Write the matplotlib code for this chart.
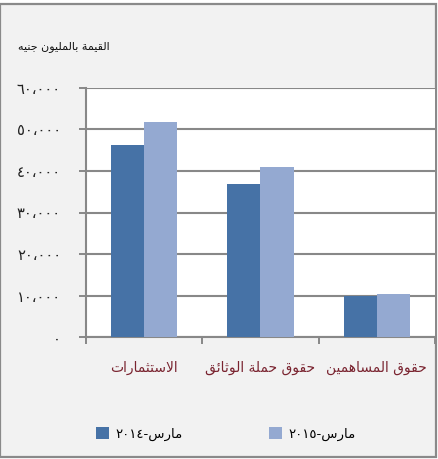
import matplotlib
matplotlib.use("Agg")
import matplotlib.pyplot as plt
from matplotlib.patches import Rectangle
import numpy as np

# ---------------- data ----------------
categories = ["الاستثمارات", "حقوق حملة الوثائق", "حقوق المساهمين"]
series_labels = ["مارس-٢٠١٤", "مارس-٢٠١٥"]
values_2014 = [46200, 36900, 9900]
values_2015 = [51800, 40900, 10300]
y_ticks = [0, 10000, 20000, 30000, 40000, 50000, 60000]
y_title = "القيمة بالمليون جنيه"

# ---------------- simple Arabic shaping ----------------
DUAL = {0x0628: 0xFE8F, 0x062A: 0xFE95, 0x062B: 0xFE99, 0x062C: 0xFE9D,
        0x062D: 0xFEA1, 0x062E: 0xFEA5, 0x0633: 0xFEB1, 0x0634: 0xFEB5,
        0x0635: 0xFEB9, 0x0636: 0xFEBD, 0x0637: 0xFEC1, 0x0638: 0xFEC5,
        0x0639: 0xFEC9, 0x063A: 0xFECD, 0x0641: 0xFED1, 0x0642: 0xFED5,
        0x0643: 0xFED9, 0x0644: 0xFEDD, 0x0645: 0xFEE1, 0x0646: 0xFEE5,
        0x0647: 0xFEE9, 0x064A: 0xFEF1, 0x0626: 0xFE89}
RIGHT = {0x0627: 0xFE8D, 0x0629: 0xFE93, 0x062F: 0xFEA9, 0x0630: 0xFEAB,
         0x0631: 0xFEAD, 0x0632: 0xFEAF, 0x0648: 0xFEED, 0x0649: 0xFEEF,
         0x0623: 0xFE83, 0x0625: 0xFE87, 0x0622: 0xFE81, 0xFEFB: 0xFEFB}
LTR_CHARS = set("0123456789٠١٢٣٤٥٦٧٨٩،,.")


def shape(s):
    s = s.replace("\u0644\u0627", "\uFEFB")
    out = []
    for i, ch in enumerate(s):
        c = ord(ch)
        if c in DUAL or c in RIGHT:
            p = i > 0 and ord(s[i - 1]) in DUAL
            n = (c in DUAL and i + 1 < len(s)
                 and (ord(s[i + 1]) in DUAL or ord(s[i + 1]) in RIGHT))
            if c in DUAL:
                off = 3 if (p and n) else 1 if p else 2 if n else 0
                out.append(chr(DUAL[c] + off))
            else:
                out.append(chr(RIGHT[c] + (1 if p else 0)))
        else:
            out.append(ch)
    shaped = "".join(out)
    # visual reordering: RTL base, digit runs kept LTR
    runs = []
    for ch in shaped:
        ltr = ch in LTR_CHARS
        if runs and runs[-1][0] == ltr:
            runs[-1][1] += ch
        else:
            runs.append([ltr, ch])
    vis = []
    for ltr, txt in reversed(runs):
        vis.append(txt if ltr else txt[::-1])
    return "".join(vis)


def ar_digits(v):
    s = f"{v:,}".replace(",", "،")
    return s.translate(str.maketrans("0123456789", "٠١٢٣٤٥٦٧٨٩"))


# ---------------- figure ----------------
W, H = 439, 459
fig = plt.figure(figsize=(W / 100, H / 100), dpi=100, facecolor="white")
fig.patches.append(Rectangle((0.5 / W, 1 - 457 / H), 435.5 / W, 453 / H,
                             transform=fig.transFigure, facecolor="#f2f2f2",
                             edgecolor="#8a8a8a", linewidth=1.6, zorder=-5))

ax = fig.add_axes([86 / W, 1 - 337.3 / H, 349 / W, 249.6 / H])
ax.set_facecolor("white")

x = np.arange(len(categories))
w = 0.286
dark = "#4672a6"
light = "#94a9d1"
b1 = ax.bar(x - w / 2, values_2014, w, color=dark, zorder=3)
b2 = ax.bar(x + w / 2, values_2015, w, color=light, zorder=3)

ax.set_xlim(-0.5, 2.5)
ax.set_ylim(0, 60000)

grid_c = "#888888"
ax.set_yticks(y_ticks)
ax.set_yticklabels([ar_digits(v) for v in y_ticks], fontsize=10.5,
                   color="#222222")
ax.yaxis.grid(True, color=grid_c, linewidth=1.5, zorder=1)
ax.set_axisbelow(True)
ax.tick_params(axis="y", length=5, width=1.4, color=grid_c, pad=13)

ax.set_xticks(x)
ax.set_xticklabels([shape(c) for c in categories], fontsize=10,
                   color="#7a2430")
ax.set_xticks([-0.5, 0.5, 1.5, 2.5], minor=True)
ax.tick_params(axis="x", which="major", length=0, pad=17)
ax.tick_params(axis="x", which="minor", length=5, width=1.4, color=grid_c)

for side in ["top", "right"]:
    ax.spines[side].set_visible(False)
for side in ["left", "bottom"]:
    ax.spines[side].set_color(grid_c)
    ax.spines[side].set_linewidth(1.5)

fig.text(110 / W, 1 - 47 / H, shape(y_title), ha="right", va="center",
         fontsize=8, color="#111111")

leg = fig.legend([b1, b2], [shape(s) for s in series_labels], ncol=2,
                 loc="center", bbox_to_anchor=(226 / W, 1 - 434 / H),
                 frameon=False, fontsize=9.5, handlelength=1.0,
                 handleheight=1.0, handletextpad=0.5, columnspacing=6.5)

fig.savefig("out.png", dpi=100, facecolor="white")
